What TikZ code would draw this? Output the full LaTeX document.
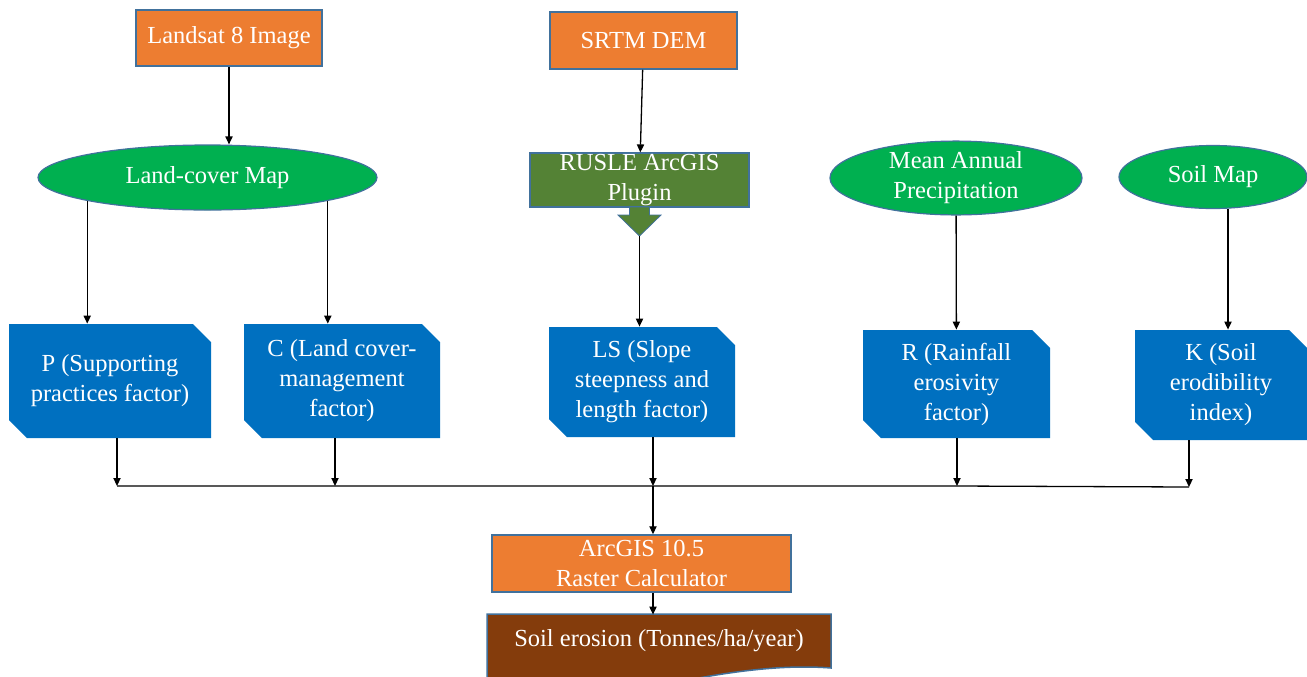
\documentclass[tikz,border=0pt]{standalone}
\usepackage{fontspec}
\setmainfont{Liberation Serif}
\usetikzlibrary{shapes.geometric,shapes.misc,arrows.meta,calc}
\definecolor{orangec}{HTML}{ED7D31}
\definecolor{bordc}{HTML}{41719C}
\definecolor{greenc}{HTML}{00B050}
\definecolor{dgreenc}{HTML}{548235}
\definecolor{bluec}{HTML}{0070C0}
\definecolor{brownc}{HTML}{843C0C}
\begin{document}
\begin{tikzpicture}[x=0.5pt,y=-0.5pt,
  every node/.style={font=\fontsize{12.25}{15}\selectfont, text=white, align=center, inner sep=0pt},
  obox/.style={rectangle, fill=orangec, draw=bordc, line width=0.75pt},
  gell/.style={ellipse, fill=greenc, draw=bordc, line width=0.6pt},
  rbox/.style={rectangle, fill=dgreenc, draw=bordc, line width=0.6pt},
  bbox/.style={chamfered rectangle, chamfered rectangle corners={north east,south west},
    chamfered rectangle xsep=4.5pt, chamfered rectangle ysep=4.5pt, fill=bluec, draw=none},
  arr/.style={-{Triangle[length=4pt,width=3.6pt]}, line width=0.65pt, black},
  ln/.style={line width=0.65pt, black}]
\clip (0,0) rectangle (1307,676);
\fill[white] (0,0) rectangle (1307,676);

% top sources
\node[obox, minimum width=93pt, minimum height=28pt] (landsat) at (229,38) {Landsat 8 Image};
\node[obox, minimum width=93.5pt, minimum height=28.5pt] (srtm) at (643.5,40.5) {SRTM DEM};

% ellipses
\node[gell, minimum width=169.5pt, minimum height=32.5pt] (lc) at (207.5,177.5) {Land-cover Map};
\node[gell, minimum width=126pt, minimum height=33pt] (map) at (956,178) {Mean Annual\\Precipitation};
\node[gell, minimum width=94pt, minimum height=31.5pt] (soil) at (1213,177) {Soil Map};

% RUSLE plugin with down arrow
\node[rbox, minimum width=109.5pt, minimum height=27pt] (rusle) at (639.5,180) {RUSLE ArcGIS\\Plugin};
\coordinate (rtip) at (639.5,236);
\fill[dgreenc, draw=bordc, line width=0.4pt] (629.5,207) -- (649.5,207) -- (649.5,215) -- (661,215) -- (rtip) -- (618,215) -- (629.5,215) -- cycle;

% factor boxes
\node[bbox, minimum width=101pt, minimum height=57pt] (P) at (110,381) {P (Supporting\\practices factor)};
\node[bbox, minimum width=98pt, minimum height=57pt] (C) at (342,381) {C (Land cover-\\management\\factor)};
\node[bbox, minimum width=93pt, minimum height=55pt] (LS) at (642,382) {LS (Slope\\steepness and\\length factor)};
\node[bbox, minimum width=93.5pt, minimum height=54pt] (R) at (956.5,384) {R (Rainfall\\erosivity\\factor)};
\node[bbox, minimum width=86pt, minimum height=55pt] (K) at (1221,385) {K (Soil\\erodibility\\index)};

% calculator and result
\node[obox, minimum width=149.5pt, minimum height=28.5pt] (arc) at (641.5,563.5) {ArcGIS 10.5\\Raster Calculator};
\filldraw[fill=brownc, draw=bordc, line width=0.75pt] (487,614) -- (831,614) -- (831,668)
  .. controls (780,664) and (720,672) .. (640,690) -- (487,700) -- cycle;
\node[minimum width=172pt, minimum height=26pt] (se) at (659,641) {Soil erosion (Tonnes/ha/year)};

% bus coordinates
\coordinate (bP) at (117,486);
\coordinate (bC) at (335,486);
\coordinate (bLS) at (653,486);
\coordinate (bR) at (957,486);
\coordinate (bK) at (1189,487);

% connectors
\draw[arr] (landsat.south) -- (landsat.south |- lc.north);
\draw[arr] (lc.south west) -- (lc.south west |- P.north);
\draw[arr] (lc.south east) -- (lc.south east |- C.north);
\draw[arr] (srtm) -- (rusle);
\draw[arr] (rtip) -- (rtip |- LS.north);
\draw[arr] (map) -- (R);
\draw[arr] ([xshift=7.5pt]soil.south) -- ([xshift=7.5pt]soil.south |- K.north);

\draw[arr] (P.south -| bP) -- (bP);
\draw[arr] (C.south -| bC) -- (bC);
\draw[arr] (LS.south -| bLS) -- (bLS);
\draw[arr] (R.south -| bR) -- (bR);
\draw[arr] (K.south -| bK) -- (bK);
\draw[ln] (bP) -- (bR) -- (bK);

\draw[arr] (bLS) -- (arc.north -| bLS);
\draw[arr] (arc.south -| bLS) -- (se.north -| bLS);
\end{tikzpicture}
\end{document}
